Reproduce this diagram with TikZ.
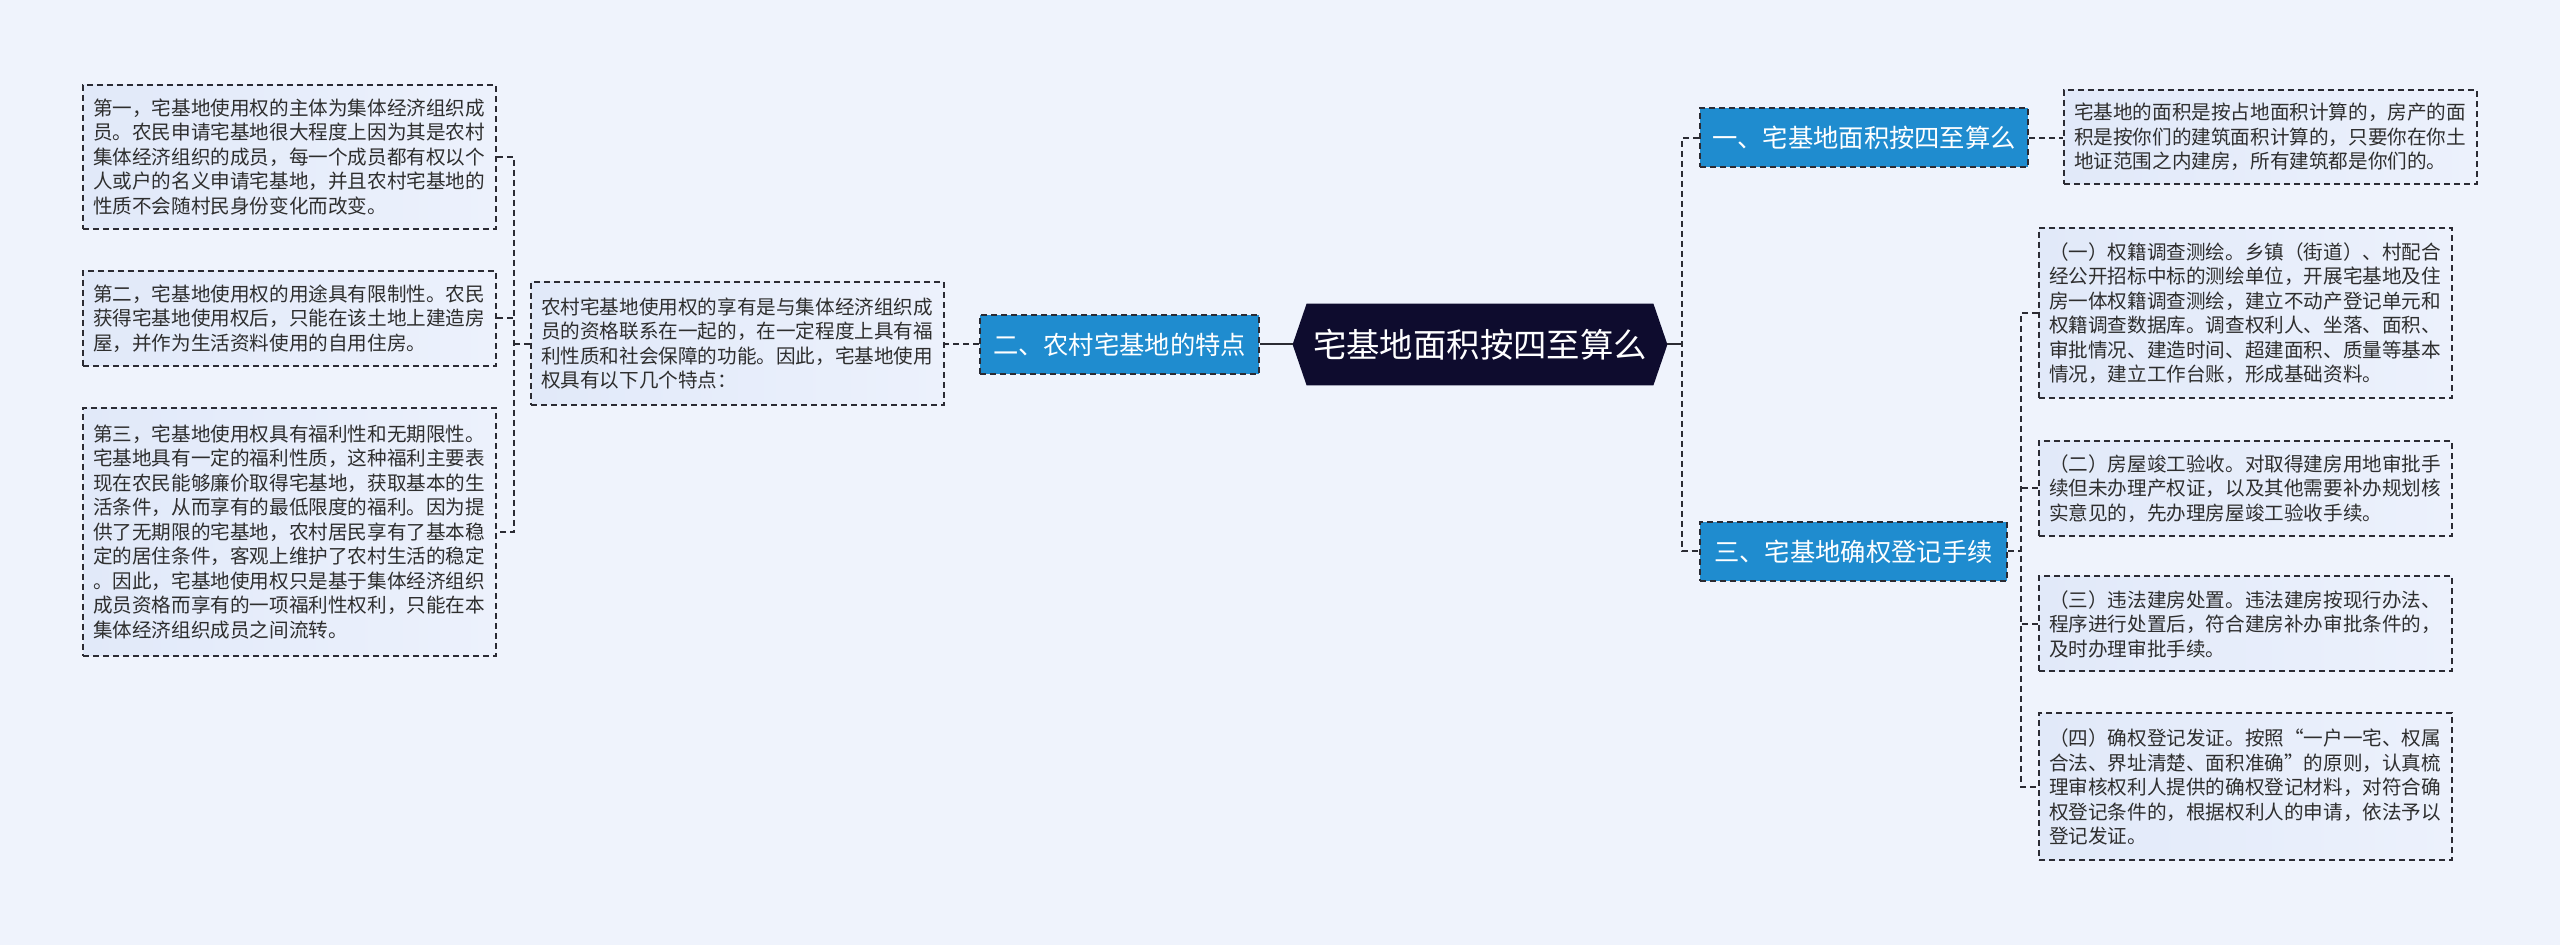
\documentclass[tikz,border=0pt]{standalone}
\usepackage{fontspec}
\setmainfont{Noto Sans CJK SC}
\usetikzlibrary{backgrounds}
\definecolor{bgc}{HTML}{EFF3FC}
\definecolor{leafL}{HTML}{E1E9F9}
\definecolor{leafR}{HTML}{ECF1FC}
\definecolor{linec}{HTML}{2B2B33}
\definecolor{textc}{HTML}{2E2E2E}
\definecolor{bluec}{HTML}{1F8CCF}
\definecolor{darkc}{HTML}{0E0C2E}
\tikzset{
  leaf/.style={draw=linec, line width=1pt, dash pattern=on 3pt off 2pt,
    left color=leafL, right color=leafR, text=textc, align=left,
    font=\fontsize{9.8pt}{12.25pt}\selectfont,
    text width=196.5pt, inner xsep=5pt, inner ysep=0pt, minimum width=206.5pt},
  bnode/.style={draw=linec, line width=1pt, dash pattern=on 3pt off 2pt,
    fill=bluec, text=white, font=\fontsize{12.65pt}{15pt}\selectfont,
    inner sep=0pt, minimum height=29.5pt},
  conn/.style={draw=linec, line width=1pt, dash pattern=on 3pt off 2pt},
  solidconn/.style={draw=linec, line width=1pt},
}
\begin{document}
\begin{tikzpicture}[x=0.5pt,y=-0.5pt]
\useasboundingbox (0,0) rectangle (2560,945);
\begin{scope}[on background layer]
\fill[bgc] (0,0) rectangle (2560,945);
\end{scope}

% center
\node[text=white, font=\fontsize{16.7pt}{20pt}\selectfont, minimum width=187pt, minimum height=40.5pt, inner sep=0pt] (c) at (1480,344.5) {宅基地面积按四至算么};
\begin{scope}[on background layer]
\fill[darkc] (c.west) -- ([xshift=7pt]c.north west) -- ([xshift=-7pt]c.north east) -- (c.east) -- ([xshift=-7pt]c.south east) -- ([xshift=7pt]c.south west) -- cycle;
\end{scope}

% blue nodes
\node[bnode, minimum width=139.5pt] (n2) at (1119.5,344.5) {二、农村宅基地的特点};
\node[bnode, minimum width=164pt] (n1) at (1864,138) {一、宅基地面积按四至算么};
\node[bnode, minimum width=153.5pt] (n3) at (1853.5,551.5) {三、宅基地确权登记手续};

% left side
\node[leaf, minimum height=61.5pt] (m) at (737.5,343.5) {农村宅基地使用权的享有是与集体经济组织成\\员的资格联系在一起的，在一定程度上具有福\\利性质和社会保障的功能。因此，宅基地使用\\权具有以下几个特点：};
\node[leaf, minimum height=72pt] (l1) at (289.5,157) {第一，宅基地使用权的主体为集体经济组织成\\员。农民申请宅基地很大程度上因为其是农村\\集体经济组织的成员，每一个成员都有权以个\\人或户的名义申请宅基地，并且农村宅基地的\\性质不会随村民身份变化而改变。};
\node[leaf, minimum height=47.5pt] (l2) at (289.5,318.5) {第二，宅基地使用权的用途具有限制性。农民\\获得宅基地使用权后，只能在该土地上建造房\\屋，并作为生活资料使用的自用住房。};
\node[leaf, minimum height=124pt] (l3) at (289.5,532) {第三，宅基地使用权具有福利性和无期限性。\\宅基地具有一定的福利性质，这种福利主要表\\现在农民能够廉价取得宅基地，获取基本的生\\活条件，从而享有的最低限度的福利。因为提\\供了无期限的宅基地，农村居民享有了基本稳\\定的居住条件，客观上维护了农村生活的稳定\\。因此，宅基地使用权只是基于集体经济组织\\成员资格而享有的一项福利性权利，只能在本\\集体经济组织成员之间流转。};

% right side
\node[leaf, minimum height=47pt] (r0) at (2270.5,137) {宅基地的面积是按占地面积计算的，房产的面\\积是按你们的建筑面积计算的，只要你在你土\\地证范围之内建房，所有建筑都是你们的。};
\node[leaf, minimum height=85pt] (r1) at (2245.5,313) {（一）权籍调查测绘。乡镇（街道）、村配合\\经公开招标中标的测绘单位，开展宅基地及住\\房一体权籍调查测绘，建立不动产登记单元和\\权籍调查数据库。调查权利人、坐落、面积、\\审批情况、建造时间、超建面积、质量等基本\\情况，建立工作台账，形成基础资料。};
\node[leaf, minimum height=47.5pt] (r2) at (2245.5,488.5) {（二）房屋竣工验收。对取得建房用地审批手\\续但未办理产权证，以及其他需要补办规划核\\实意见的，先办理房屋竣工验收手续。};
\node[leaf, minimum height=47.5pt] (r3) at (2245.5,624) {（三）违法建房处置。违法建房按现行办法、\\程序进行处置后，符合建房补办审批条件的，\\及时办理审批手续。};
\node[leaf, minimum height=73.5pt] (r4) at (2245.5,787) {（四）确权登记发证。按照“一户一宅、权属\\合法、界址清楚、面积准确”的原则，认真梳\\理审核权利人提供的确权登记材料，对符合确\\权登记条件的，根据权利人的申请，依法予以\\登记发证。};

% connectors
\coordinate (bl) at (514,344.5);
\coordinate (br) at (1682,344.5);
\coordinate (br3) at (2021,551.5);
\draw[solidconn] (c.west) -- (n2.east);
\draw[conn] (n2.west) -- (m.east |- n2.west);
\draw[conn] (m.west |- bl) -- (bl);
\draw[conn] (l1.east) -- (l1.east -| bl) -- (l3.east -| bl) -- (l3.east);
\draw[conn] (l2.east) -- (l2.east -| bl);
\draw[solidconn] (c.east) -- (br);
\draw[conn] (n1.west) -- (n1.west -| br) -- (n3.west -| br) -- (n3.west);
\draw[conn] (n1.east) -- (r0.west |- n1.east);
\draw[conn] (n3.east) -- (br3);
\draw[conn] (r1.west) -- (r1.west -| br3) -- (r4.west -| br3) -- (r4.west);
\draw[conn] (r2.west) -- (r2.west -| br3);
\draw[conn] (r3.west) -- (r3.west -| br3);
\end{tikzpicture}
\end{document}
